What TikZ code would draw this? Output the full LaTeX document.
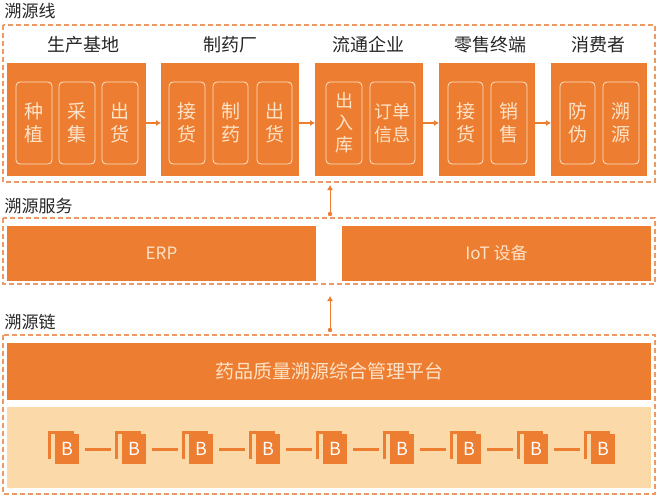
\documentclass[tikz,border=0pt]{standalone}
\usepackage{fontspec}
\setmainfont{Noto Sans CJK SC}
\usetikzlibrary{arrows.meta}
\definecolor{og}{HTML}{ED7D31}
\definecolor{lt}{HTML}{FCD9A8}
\definecolor{cr}{HTML}{FDE3C8}
\definecolor{dsh}{HTML}{EE9A66}
\tikzset{
 dbox/.style={draw=dsh,dashed,line width=1.2pt,dash pattern=on 5pt off 3pt},
 obox/.style={fill=og},
 inbox/.style={draw=cr,line width=0.8pt,rounded corners=4pt,text=cr,font=\fontsize{19}{23}\selectfont,align=center,inner sep=0pt},
 ttl/.style={font=\fontsize{18}{20}\selectfont,text=black!85},
 lbl/.style={font=\fontsize{17}{20}\selectfont,text=black!85,anchor=west},
 arr/.style={draw=og,line width=1.6pt,-{Latex[length=5pt,width=6pt]}},
}
\begin{document}
\begin{tikzpicture}[x=1pt,y=-1pt]
\useasboundingbox (0,0) rectangle (660,497);
\fill[white] (0,0) rectangle (660,497);
% labels
\node[lbl] (l1) at (1,11) {溯源线};
\node[lbl] (l2) at (1,206) {溯源服务};
\node[lbl] (l3) at (1,322) {溯源链};
% dashed boxes
\draw[dbox] (3,25) rectangle (655,182);
\draw[dbox] (3,218) rectangle (655,284);
\draw[dbox] (3,335) rectangle (655,494);
% top orange boxes
\fill[obox] (7,63) rectangle (146,176);
\fill[obox] (161,63) rectangle (299,176);
\fill[obox] (315,63) rectangle (423,176);
\fill[obox] (439,63) rectangle (535,176);
\fill[obox] (551,63) rectangle (647,176);
\node[ttl] (t1) at (83,45) {生产基地};
\node[ttl] (t2) at (230,45) {制药厂};
\node[ttl] (t3) at (368,45) {流通企业};
\node[ttl] (t4) at (490,45) {零售终端};
\node[ttl] (t5) at (598,45) {消费者};
\newcommand{\ib}[4]{\node[inbox,minimum width=#2-#1,minimum height=82] (#3) at ({(#1+#2)/2},123) {#4};}
\ib{16}{52}{i1}{种\\植}
\ib{59}{95}{i2}{采\\集}
\ib{102}{138}{i3}{出\\货}
\ib{169}{205}{i4}{接\\货}
\ib{213}{248}{i5}{制\\药}
\ib{257}{292}{i6}{出\\货}
\node[inbox,minimum width=36,minimum height=82,font=\fontsize{18}{22}\selectfont] (i7) at (344,123) {出\\入\\库};
\node[inbox,minimum width=45,minimum height=82,font=\fontsize{18}{23}\selectfont] (i8) at (392.5,123) {订单\\信息};
\ib{448}{483}{i9}{接\\货}
\ib{491}{527}{i10}{销\\售}
\ib{560}{595}{i11}{防\\伪}
\ib{603}{639}{i12}{溯\\源}
\coordinate (a1s) at (146,123); \coordinate (a1e) at (161,123);
\coordinate (a2s) at (299,123); \coordinate (a2e) at (315,123);
\coordinate (a3s) at (423,123); \coordinate (a3e) at (439,123);
\coordinate (a4s) at (535,123); \coordinate (a4e) at (551,123);
\foreach \i in {1,2,3,4} \draw[arr] (a\i s) -- (a\i e);
% service
\node[obox,minimum width=309,minimum height=55,inner sep=0,text=cr,font=\fontsize{17}{20}\selectfont] (erp) at (161.5,253.5) {ERP};
\node[obox,minimum width=309,minimum height=55,inner sep=0,text=cr,font=\fontsize{17}{20}\selectfont] (iot) at (496.5,253.5) {IoT 设备};
\coordinate (v1s) at (330,214); \coordinate (v1e) at (330,185);
\coordinate (v2s) at (330,330); \coordinate (v2e) at (330,296);
\foreach \s/\e in {v1s/v1e,v2s/v2e}{\draw[arr,line width=1pt] (\s) -- (\e); \fill[og] (\s) circle (2.2);}
% chain
\node[obox,minimum width=644,minimum height=57,inner sep=0,text=cr,font=\fontsize{19}{22}\selectfont] (plat) at (329,371.5) {药品质量溯源综合管理平台};
\fill[lt] (7,407) rectangle (651,488);
\foreach \k in {0,...,8}{
  \pgfmathsetmacro{\xx}{55+67*\k}
  \fill[og] (\xx-7,431) rectangle (\xx+19,434);
  \fill[og] (\xx-7,431) rectangle (\xx-4,459);
  \node[fill=og,minimum width=24,minimum height=30,inner sep=0,text=white,font=\fontsize{18}{20}\selectfont] (bk\k) at (\xx+12,449) {B};
}
\foreach \k [evaluate=\k as \n using int(\k+1)] in {0,...,7}
  \draw[og,line width=3pt,shorten <=6pt,shorten >=11pt] (bk\k.east) -- (bk\n.west);
\end{tikzpicture}
\end{document}
